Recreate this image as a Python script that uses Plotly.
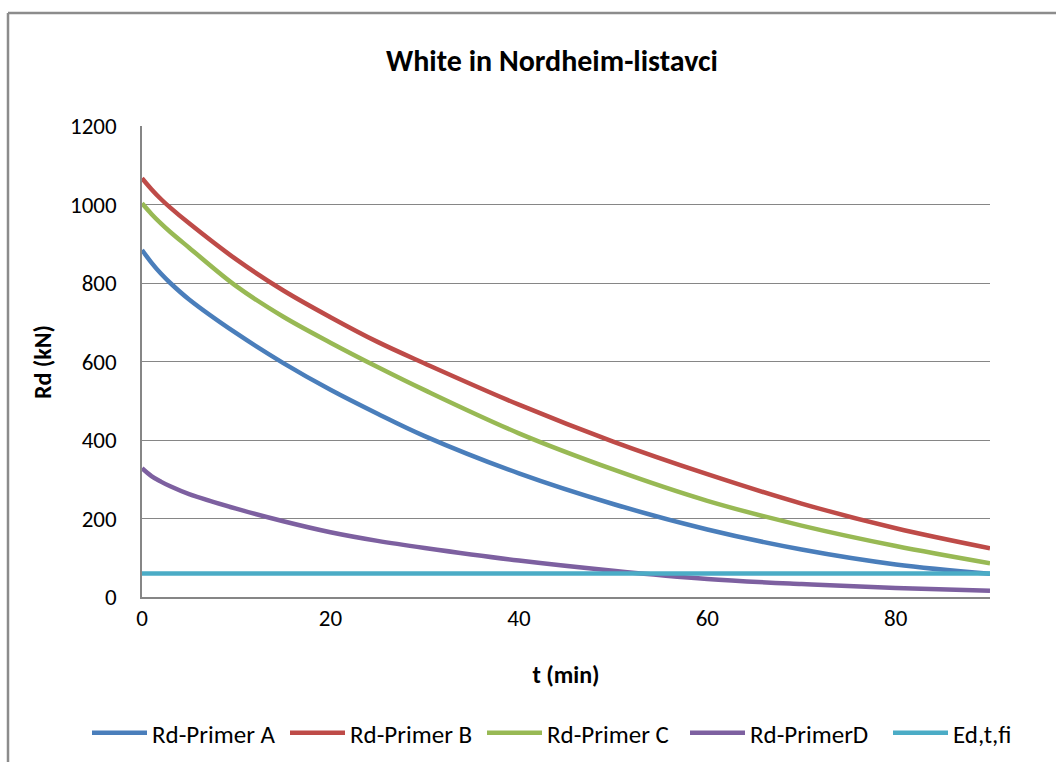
import plotly.graph_objects as go

# time (min)
t_min = [0, 1, 2, 3, 5, 10, 15, 20, 25, 30, 40, 50, 60, 70, 80, 90]

rd_primer_a = [884, 852, 824, 800, 758, 672, 596, 528, 467, 410, 315, 237, 172, 121, 83, 59]
rd_primer_b = [1067, 1039, 1014, 992, 952, 860, 781, 713, 650, 595, 490, 396, 313, 238, 175, 124]
rd_primer_c = [1003, 976, 952, 930, 890, 792, 714, 648, 586, 527, 417, 325, 245, 182, 130, 86]
rd_primer_d = [328, 308, 294, 282, 262, 225, 193, 165, 143, 125, 93, 67, 46, 33, 23, 16]
ed_t_fi = [60, 60, 60, 60, 60, 60, 60, 60, 60, 60, 60, 60, 60, 60, 60, 60]

series_names = ["Rd-Primer A", "Rd-Primer B", "Rd-Primer C", "Rd-PrimerD", "Ed,t,fi"]
series_values = [rd_primer_a, rd_primer_b, rd_primer_c, rd_primer_d, ed_t_fi]
series_colors = ["#4A7EBB", "#BE4B48", "#98B954", "#7D60A0", "#4BACC6"]

title_text = "White in Nordheim-listavci"
x_title = "t (min)"
y_title = "Rd (kN)"

FONT = "Carlito, Lato, sans-serif"

W, H = 1056, 762
L, R, T, B = 142, 66, 126, 165
pw, ph = W - L - R, H - T - B

def px_x(p):
    return (p - L) / pw

def px_y(p):
    return (H - B - p) / ph

# legend text start positions (px) in the reference
legend_text_x = [152, 350, 547, 750, 953]
legend_ids = ["legend", "legend2", "legend3", "legend4", "legend5"]
ITEMW = 55

fig = go.Figure()
for name, vals, col, lid in zip(series_names, series_values, series_colors, legend_ids):
    fig.add_trace(go.Scatter(
        x=t_min, y=vals, name=name, mode="lines", legend=lid, showlegend=True,
        line=dict(color=col, width=4.5, shape="spline", smoothing=1.0),
    ))

legends = {}
for lid, tx in zip(legend_ids, legend_text_x):
    legends[lid] = dict(orientation="h", xref="container", yref="paper",
                        x=(tx - ITEMW - 10) / W, y=px_y(733), xanchor="left", yanchor="middle",
                        itemwidth=ITEMW,
                        font=dict(family=FONT, size=25, color="black"),
                        bgcolor="rgba(0,0,0,0)", visible=True)

fig.update_layout(
    width=W, height=H, showlegend=True,
    margin=dict(l=L, r=R, t=T, b=B, autoexpand=False),
    paper_bgcolor="white", plot_bgcolor="white",
    font=dict(family=FONT, size=23, color="black"),
    title=dict(text="<b>" + title_text + "</b>", xref="container", yref="container",
               x=552 / W, y=1 - 60 / H, xanchor="center", yanchor="middle",
               font=dict(family=FONT, size=30, color="black")),
    xaxis=dict(range=[0, 90], tick0=0, dtick=20, showgrid=False,
               showline=True, linecolor="#868686", linewidth=1.5,
               ticks="", zeroline=False, tickfont=dict(size=23),
               title=dict(text="<b>" + x_title + "</b>", font=dict(size=24), standoff=35)),
    yaxis=dict(range=[0, 1200], tick0=0, dtick=200, showgrid=True,
               gridcolor="#868686", gridwidth=1.2,
               showline=True, linecolor="#868686", linewidth=1.5,
               ticks="outside", ticklen=19, tickcolor="rgba(0,0,0,0)",
               zeroline=False, tickfont=dict(size=23)),
    annotations=[
        dict(text="<b>" + y_title + "</b>", xref="paper", yref="paper",
             x=px_x(42), y=px_y(362), xanchor="center", yanchor="middle",
             textangle=-90, showarrow=False, font=dict(family=FONT, size=24, color="black")),
    ],
    shapes=[
        dict(type="line", xref="paper", yref="paper", x0=px_x(8), x1=px_x(8),
             y0=px_y(13), y1=px_y(H + 10), line=dict(color="#8C8C8C", width=2.5)),
        dict(type="line", xref="paper", yref="paper", x0=px_x(8), x1=px_x(W + 10),
             y0=px_y(13), y1=px_y(13), line=dict(color="#8C8C8C", width=2.5)),
    ],
    **legends,
)

fig.write_html("out.html")
